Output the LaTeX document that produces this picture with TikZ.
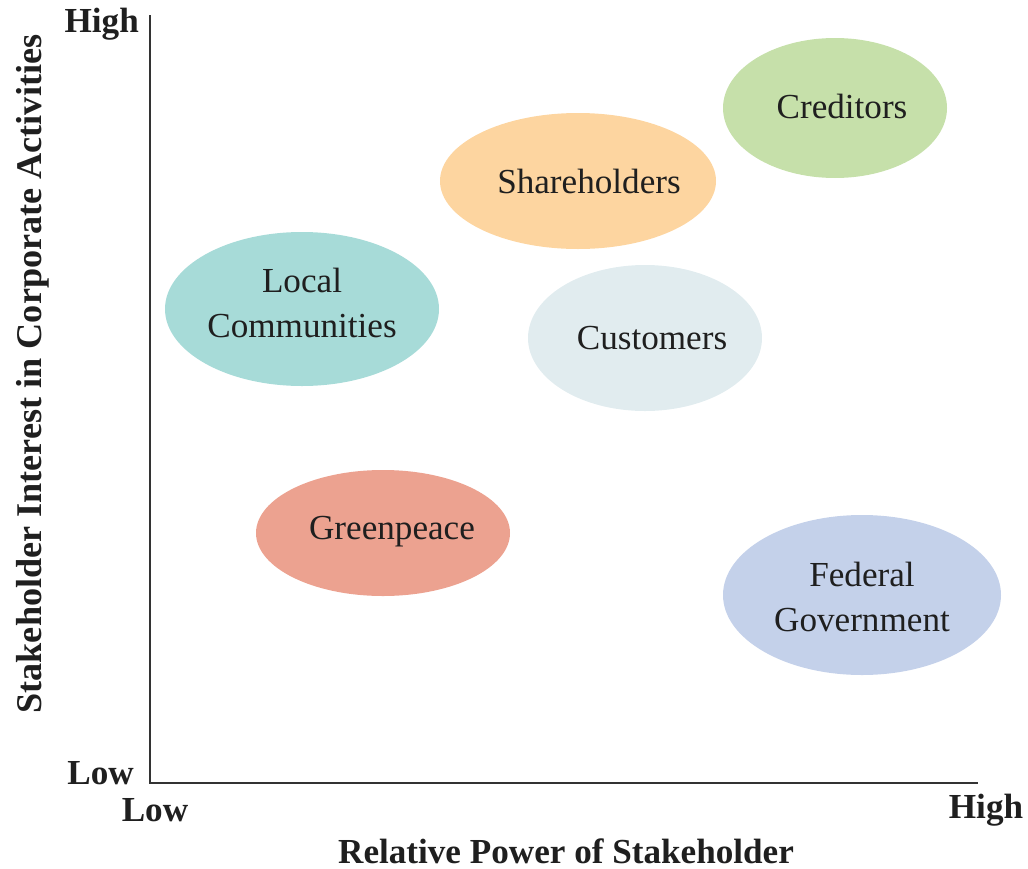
\documentclass[tikz,border=0pt]{standalone}
\usepackage{fontspec}
\setmainfont{Liberation Serif}
\usetikzlibrary{shapes.geometric}
\begin{document}
\begin{tikzpicture}[x=0.02cm,y=-0.02cm,
  blob/.style={ellipse, draw=none, inner sep=0pt, align=center, font=\fontsize{20}{26}\selectfont, text=black!88},
  axislabel/.style={font=\bfseries\fontsize{20}{24}\selectfont, text=black!88},
  axis/.style={draw=black!80, line width=0.9pt}]
\useasboundingbox (0,0) rectangle (1028,869);
\definecolor{credit}{HTML}{C6E0AA}
\definecolor{share}{HTML}{FDD5A0}
\definecolor{local}{HTML}{A7DBD8}
\definecolor{cust}{HTML}{E1ECEF}
\definecolor{green}{HTML}{ECA290}
\definecolor{fed}{HTML}{C4D1EA}
% axes
\coordinate (top) at (150,15);
\coordinate (origin) at (150,783);
\coordinate (right) at (978,783);
\draw[axis] (top) -- (origin) -- (right);
% stakeholder ellipses
\fill[credit] (835,108) ellipse [x radius=112, y radius=70];
\fill[share] (578,181) ellipse [x radius=138, y radius=68];
\fill[local] (302,309) ellipse [x radius=137, y radius=77];
\fill[cust] (645,338) ellipse [x radius=117, y radius=73];
\fill[green] (383,533) ellipse [x radius=127, y radius=63];
\fill[fed] (862,595) ellipse [x radius=139, y radius=80];
\node[blob] (creditors) at (842,106) {Creditors};
\node[blob] (shareholders) at (589,181) {Shareholders};
\node[blob] (local) at (302,303) {Local\\Communities};
\node[blob] (customers) at (652,338) {Customers};
\node[blob] (greenpeace) at (392,532) {Greenpeace};
\node[blob] (federal) at (862,597) {Federal\\Government};
% axis labels
\node[axislabel, anchor=east] (yhigh) at (145,24) {High};
\node[axislabel, anchor=east] (ylow) at (140,773) {Low};
\node[axislabel] (xlow) at (155,810) {Low};
\node[axislabel] (xhigh) at (986,810) {High};
\node[axislabel] (xtitle) at (566,851) {Relative Power of Stakeholder};
\node[axislabel, font=\bfseries\fontsize{20.6}{24}\selectfont, rotate=90] (ytitle) at (33,374) {Stakeholder Interest in Corporate Activities};
\end{tikzpicture}
\end{document}
